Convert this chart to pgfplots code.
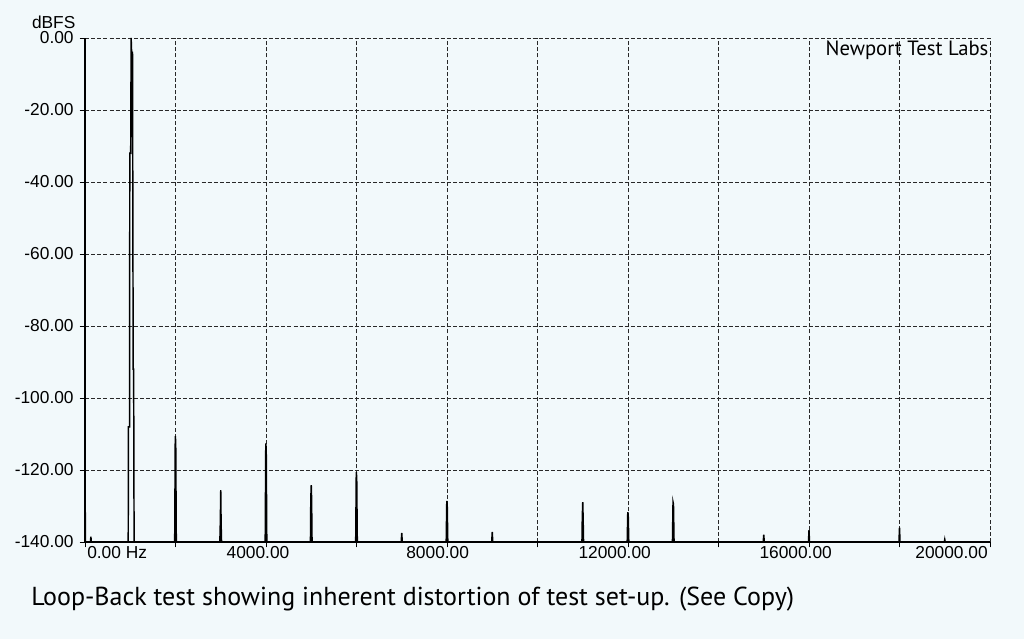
\documentclass[border=0pt]{standalone}
\usepackage{pgfplots}
\pgfplotsset{compat=1.18}
\usepackage{fontspec}
\setmainfont{Liberation Sans}
\newfontfamily\capfont{PT Sans}
\definecolor{bgcol}{RGB}{242,249,251}
\definecolor{gridcol}{RGB}{40,40,40}

% spectrum trace, Hz vs dBFS; 1px = 0.75pt
\begin{document}
\begin{tikzpicture}
\path[use as bounding box, fill=bgcol] (0pt,0pt) rectangle (768pt,479.25pt);
\begin{axis}[
    at={(63.75pt,72.75pt)}, anchor=south west,
    scale only axis, width=678.75pt, height=378pt,
    xmin=0, xmax=20000, ymin=-140, ymax=0,
    axis x line=bottom, axis y line=left,
    axis line style={-, black, line width=0.8pt},
    xtick={0,2000,...,20000}, xticklabels={}, scaled x ticks=false,
    ytick={-140,-120,...,0},
    yticklabels={-140.00,-120.00,-100.00,-80.00,-60.00,-40.00,-20.00,0.00},
    yticklabel style={font=\fontsize{13}{15}\selectfont, xshift=-1pt},
    tick align=outside, major tick length=4pt,
    tick style={black, line width=0.7pt},
    grid=major,
    major grid style={gridcol, line width=0.7pt, dash pattern=on 3pt off 1.6pt},
    clip=false,
]
\addplot[black, line width=1.1pt] coordinates {
(0,-120)(10,-140)(120,-140)(130,-138.5)(140,-140)
(955,-140)(960,-108)(985,-108)(990,-32)(1010,-32)(1020,0)(1030,-4)(1050,-4)(1065,-92)(1075,-92)(1085,-140)
(1982,-140)(1995,-110.6)(2005,-112)(2018,-140)
(2980,-140)(2990,-134.7)(3000,-125.6)(3008,-134.7)(3018,-140)
(3982,-140)(3995,-112.6)(4005,-114)(4018,-140)
(4982,-140)(4990,-128)(5000,-124.2)(5008,-128)(5018,-140)
(5982,-140)(5995,-120.6)(6005,-122)(6018,-140)
(6988,-140)(7000,-137.5)(7012,-140)
(7982,-140)(7995,-128.6)(8005,-129.5)(8018,-140)
(8988,-140)(9000,-137.2)(9012,-140)
(10982,-140)(10990,-133)(11000,-128.9)(11008,-133)(11018,-140)
(11982,-140)(11995,-131.7)(12005,-132.5)(12018,-140)
(12982,-140)(12995,-128.9)(13005,-129.5)(13018,-140)
(14988,-140)(15000,-138)(15012,-140)
(15988,-140)(16000,-136.7)(16012,-140)
(17988,-140)(18000,-136)(18012,-140)
(18990,-140)(19000,-139.3)(19010,-140)
(20000,-140)
};
% x tick labels, placed as in the reference
\begin{scope}[every node/.style={font=\fontsize{13}{15}\selectfont, inner sep=0pt}]
\node[anchor=north west] at (axis cs:0,-140) [yshift=-3pt, xshift=1.5pt] {0.00 Hz};
\node[anchor=north] at (axis cs:4000,-140) [yshift=-3pt, xshift=-6pt] {4000.00};
\node[anchor=north] at (axis cs:8000,-140) [yshift=-3pt, xshift=-7pt] {8000.00};
\node[anchor=north] at (axis cs:12000,-140) [yshift=-3pt, xshift=-10pt] {12000.00};
\node[anchor=north] at (axis cs:16000,-140) [yshift=-3pt, xshift=-10pt] {16000.00};
\node[anchor=north east] at (axis cs:20000,-140) [yshift=-3pt, xshift=-1.5pt] {20000.00};
\node[anchor=south east] at (axis cs:0,0) [xshift=-7pt, yshift=7pt] {dBFS};
\end{scope}
\node[anchor=north east, inner sep=0pt, font=\capfont\fontsize{15.5}{17}\selectfont] at (axis cs:20000,0) [xshift=-1pt, yshift=-2pt] {Newport Test Labs};
\end{axis}
\node[anchor=west, inner sep=0pt, font=\capfont\fontsize{19.5}{24}\selectfont] at (23.25pt,30pt) {Loop-Back test showing inherent distortion of test set-up. (See Copy)};
\end{tikzpicture}
\end{document}
